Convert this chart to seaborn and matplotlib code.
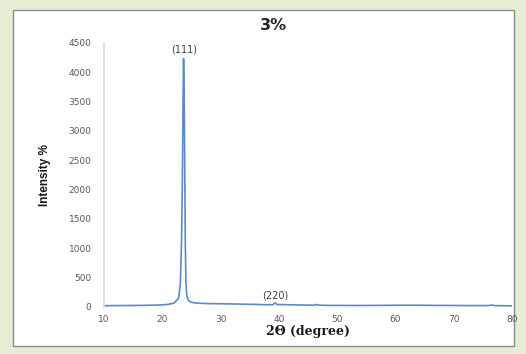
import matplotlib
matplotlib.use("Agg")
import matplotlib.pyplot as plt
import seaborn as sns
import pandas as pd
from matplotlib.patches import Rectangle

# data
two_theta = [10, 12, 14, 16, 18, 20, 21, 22, 22.8, 23.1, 23.3, 23.45, 23.55, 23.65, 23.75,
             23.85, 23.95, 24.05, 24.2, 24.5, 25, 26, 28, 30, 32, 34, 36, 38, 39, 39.35,
             39.7, 41, 43, 45, 46, 46.5, 47, 49, 52, 55, 58, 61, 64, 67, 70, 73, 76, 76.5,
             77, 80]
intensity = [22, 24, 25, 27, 30, 36, 45, 65, 150, 400, 1100, 2200, 3400, 4230, 3700,
             2400, 1100, 450, 200, 110, 80, 65, 58, 55, 52, 48, 44, 38, 40, 70,
             42, 40, 36, 32, 30, 42, 30, 27, 26, 26, 28, 30, 30, 27, 26, 24, 24, 34,
             24, 20]
x_ticks = [10, 20, 30, 40, 50, 60, 70, 80]
y_ticks = [0, 500, 1000, 1500, 2000, 2500, 3000, 3500, 4000, 4500]
peak_labels = ["(111)", "(220)"]
peak_pos = [(23.75, 4300), (39.3, 110)]

df = pd.DataFrame({"two_theta": two_theta, "intensity": intensity})

sns.set_theme(style="white")
fig = plt.figure(figsize=(5.26, 3.54), dpi=100)
fig.patch.set_facecolor("#e4eed5")
W, H = 526, 354
fig.patches.append(Rectangle((13 / W, 1 - 346 / H), (514 - 13) / W, (346 - 10) / H,
                             transform=fig.transFigure, facecolor="white",
                             edgecolor="#8c8c8c", linewidth=1.0, zorder=-10))

ax = fig.add_axes([104 / W, 1 - 307 / H, (512 - 104) / W, (307 - 43) / H])
ax.set_facecolor("none")
sns.lineplot(data=df, x="two_theta", y="intensity", ax=ax, color="#5b8ac6", linewidth=1.2)

ax.set_xlim(10, 80)
ax.set_ylim(0, 4500)
ax.set_xticks(x_ticks)
ax.set_yticks(y_ticks)
ax.tick_params(axis="x", labelsize=6.5, colors="#595959", length=0, pad=5.5)
ax.tick_params(axis="y", labelsize=6.5, colors="#595959", length=0, pad=9)
for lab in ax.get_xticklabels() + ax.get_yticklabels():
    lab.set_family("DejaVu Sans")
for s in ["top", "right", "bottom"]:
    ax.spines[s].set_visible(False)
ax.spines["left"].set_color("#d9d9d9")
ax.spines["left"].set_linewidth(1.2)

ax.set_xlabel("2Θ (degree)", fontsize=9, fontweight="bold",
              family=["DejaVu Serif"], color="#1a1a1a")
ax.set_ylabel("Intensity %", fontsize=8.5, fontweight="bold",
              family=["Liberation Sans Narrow", "Liberation Sans", "DejaVu Sans"],
              color="#1a1a1a")
ax.yaxis.set_label_coords(-0.13, 0.5)
ax.xaxis.set_label_coords(0.5, -0.07)

for lab, (px, py) in zip(peak_labels, peak_pos):
    ax.text(px, py, lab, ha="center", va="bottom", fontsize=7, color="#404040",
            family="DejaVu Sans")

fig.text(273 / W, 1 - 26 / H, "3%", ha="center", va="center", fontsize=11.5,
         fontweight="bold", color="#262626", family="DejaVu Sans")

fig.savefig("out.png", dpi=100, facecolor=fig.get_facecolor())
